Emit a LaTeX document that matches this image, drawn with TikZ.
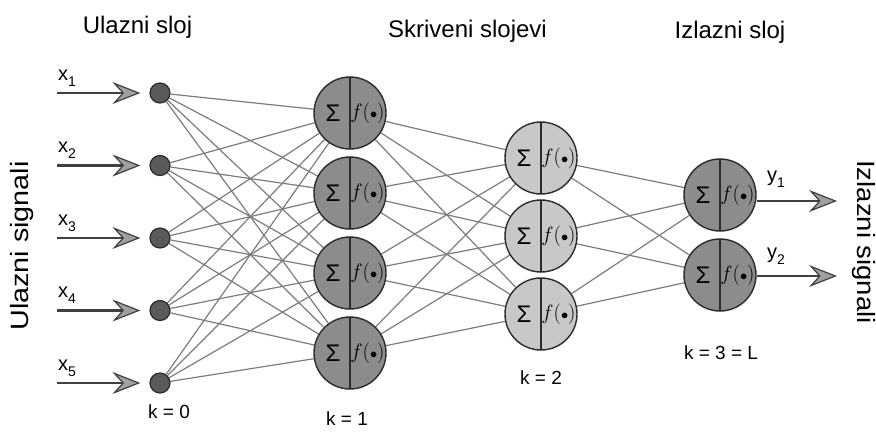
\documentclass[tikz,border=0pt]{standalone}
\usepackage{fontspec}
\setmainfont{Liberation Sans}
\usetikzlibrary{arrows.meta}

\definecolor{darkfill}{HTML}{8C8C8C}
\definecolor{lightfill}{HTML}{C8C8C8}
\definecolor{dotfill}{HTML}{5A5A5A}
\definecolor{edgecol}{HTML}{7C7C7C}
\definecolor{rimcol}{HTML}{2B2B2B}
\definecolor{headfill}{HTML}{A0A0A0}

\newcommand{\fsz}[1]{\fontsize{#1}{#1}\selectfont}
\newcommand{\sumpart}{\fsz{24}Σ}
\newcommand{\actpart}{\fsz{20}$f(\mathord{\scriptstyle\bullet})$}

\pgfdeclarelayer{wires}
\pgfsetlayers{wires,main}

\tikzset{
  link/.style={draw=edgecol, line width=1.2pt},
  inputdot/.style={circle, draw=rimcol, fill=dotfill, line width=1.2pt,
    minimum size=20pt, inner sep=0pt},
  neuron/.style={circle, draw=rimcol, line width=1.4pt, minimum size=72pt,
    inner sep=0pt,
    path picture={
      \draw[rimcol, line width=1.4pt]
        (path picture bounding box.north) -- (path picture bounding box.south);
      \node[inner sep=0pt] at ([xshift=-17pt]path picture bounding box.center) {\sumpart};
      \node[inner sep=0pt] at ([xshift=17.5pt]path picture bounding box.center) {\actpart};
    }},
  darkneuron/.style={neuron, fill=darkfill},
  lightneuron/.style={neuron, fill=lightfill},
  sigarrow/.style={draw=rimcol!90, line width=2.8pt,
    -{Stealth[length=28pt, width=22pt, inset=10pt, fill=headfill, line width=1.2pt]}},
  title/.style={anchor=base, font=\fsz{24}},
  klabel/.style={font=\fsz{19}},
  sidelabel/.style={font=\fsz{25}},
  siglabel/.style={anchor=base west, font=\fsz{20}, inner sep=0pt}
}

\begin{document}
\begin{tikzpicture}[x=1pt, y=-1pt]
  \useasboundingbox (0,0) rectangle (876,432);

  % titles
  \node[title] (t0) at (137.5,33) {Ulazni sloj};
  \node[title] (t1) at (467.5,37) {Skriveni slojevi};
  \node[title] (t2) at (730,38) {Izlazni sloj};

  % side labels
  \node[sidelabel, rotate=90] (sl) at (22,246) {\scalebox{1.15}[1]{Ulazni signali}};
  \node[sidelabel, rotate=-90] (sr) at (864,242) {\scalebox{1.1}[1]{Izlazni signali}};

  % input layer
  \foreach \i/\y in {1/93, 2/165.5, 3/238, 4/310.5, 5/383} {
    \node[inputdot] (in\i) at (160,\y) {};
    \coordinate (s\i) at (57,\y);
    \draw[sigarrow, shorten >=9pt] (s\i) -- (in\i);
    \node[siglabel] (xl\i) at (58,\y-13) {x\raisebox{-6pt}{\fsz{14}\i}};
  }

  % first hidden layer
  \foreach \j/\y in {1/113, 2/193, 3/273, 4/353}
    \node[darkneuron] (h\j) at (350,\y) {};

  % second hidden layer
  \foreach \j/\y in {1/158, 2/236, 3/314}
    \node[lightneuron] (m\j) at (541,\y) {};

  % output layer
  \foreach \j/\y in {1/195, 2/275}
    \node[darkneuron] (o\j) at (720,\y) {};

  % connections
  \begin{pgfonlayer}{wires}
    \foreach \i in {1,...,5}
      \foreach \j in {1,...,4}
        \draw[link] (in\i) -- (h\j);
    \foreach \i in {1,...,4}
      \foreach \j in {1,...,3}
        \draw[link] (h\i) -- (m\j);
    \foreach \i in {1,...,3}
      \foreach \j in {1,2}
        \draw[link] (m\i) -- (o\j);
  \end{pgfonlayer}

  % outputs
  \coordinate (e1) at (837,201);
  \coordinate (e2) at (837,276);
  \draw[sigarrow] (o1.east |- e1) -- (e1);
  \draw[sigarrow] (o2.east |- e2) -- (e2);
  \node[siglabel] (yl1) at (767,181) {y\raisebox{-6pt}{\fsz{14}1}};
  \node[siglabel] (yl2) at (767,258) {y\raisebox{-6pt}{\fsz{14}2}};

  % layer indices
  \node[klabel] (k0) at (169,412) {k = 0};
  \node[klabel] (k1) at (347,419) {k = 1};
  \node[klabel] (k2) at (541,378) {k = 2};
  \node[klabel] (k3) at (721,353) {k = 3 = L};
\end{tikzpicture}
\end{document}
